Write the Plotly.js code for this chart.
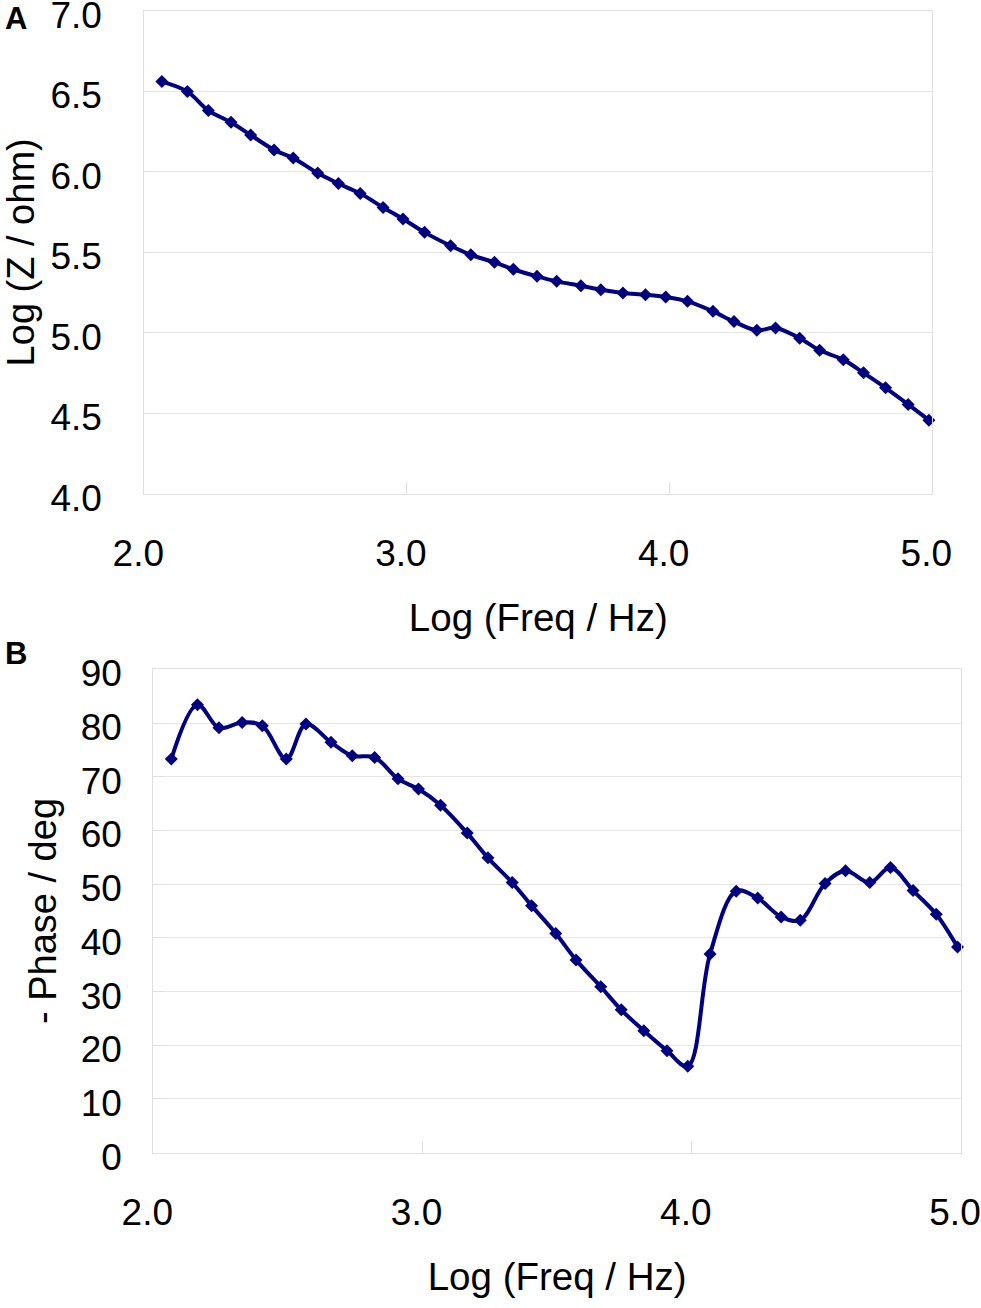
<!DOCTYPE html>
<html>
<head>
<meta charset="utf-8">
<script src="https://cdn.plot.ly/plotly-3.0.1.min.js"></script>
<style>
html,body{margin:0;padding:0;background:#fff;}
#chart{width:981px;height:1308px;}
</style>
</head>
<body>
<div id="chart"></div>
<script>
// Data
var logFreq = [2.067, 2.164, 2.244, 2.330, 2.405, 2.494, 2.567, 2.660, 2.739, 2.822,
               2.909, 2.985, 3.067, 3.166, 3.243, 3.333, 3.405, 3.495, 3.570, 3.662,
               3.738, 3.822, 3.908, 3.985, 4.068, 4.165, 4.245, 4.332, 4.403, 4.495,
               4.571, 4.661, 4.738, 4.822, 4.908, 4.987];
var logZ = [6.560, 6.498, 6.380, 6.308, 6.228, 6.136, 6.085, 5.992, 5.927, 5.865,
            5.779, 5.707, 5.624, 5.541, 5.485, 5.438, 5.395, 5.351, 5.320, 5.293,
            5.268, 5.248, 5.237, 5.223, 5.196, 5.134, 5.070, 5.016, 5.031, 4.967,
            4.892, 4.834, 4.752, 4.659, 4.556, 4.458];
var phase = [73.3, 83.4, 79.1, 80.1, 79.5, 73.3, 79.8, 76.4, 73.9, 73.6,
             69.6, 67.7, 64.7, 59.5, 54.9, 50.3, 46.0, 40.8, 35.9, 30.9,
             26.6, 22.7, 19.0, 16.1, 37.0, 48.7, 47.4, 43.9, 43.3, 50.1,
             52.5, 50.3, 53.1, 48.8, 44.4, 38.3];
var panelLabels = ["A", "B"];
var xTitle = "Log (Freq / Hz)";
var yTitleA = "Log (Z / ohm)";
var yTitleB = "- Phase / deg";

var navy = "#000080";
var FONT = "Liberation Sans, Arial, Helvetica, sans-serif";
var W = 981, H = 1308;

function px2x(p){ return p / W; }
function px2y(p){ return 1 - p / H; }

var lineStyle = {color: navy, width: 4, shape: "spline", smoothing: 1};
var markerStyle = {symbol: "diamond", size: 10, color: navy};

var traces = [
  {x: logFreq, y: logZ, xaxis: "x", yaxis: "y", type: "scatter", mode: "lines+markers",
   line: lineStyle, marker: markerStyle, cliponaxis: false, hoverinfo: "x+y"},
  {x: logFreq, y: phase, xaxis: "x2", yaxis: "y2", type: "scatter", mode: "lines+markers",
   line: lineStyle, marker: markerStyle, cliponaxis: false, hoverinfo: "x+y"}
];

var gridC = "#e6e6e6", lineC = "#e0e0e0";
function xAxis(domain, anchor){
  return {
    domain: domain, anchor: anchor, range: [2, 5], dtick: 1, tick0: 2, tickformat: ".1f",
    showgrid: false, zeroline: false, showline: true, mirror: true, linecolor: lineC, linewidth: 1,
    ticks: "inside", ticklen: 12, tickcolor: lineC, tickwidth: 1,
    tickfont: {family: FONT, size: 37, color: "#000"},
    ticklabelstandoff: 27, ticklabelshift: -6, ticklabeloverflow: "allow",
    title: {text: xTitle, font: {family: FONT, size: 38.5, color: "#000"}, standoff: 30},
    automargin: false, fixedrange: true
  };
}
function yAxis(domain, anchor, range, dtick, fmt, standoffLbl, standoffTitle, title){
  return {
    domain: domain, anchor: anchor, range: range, dtick: dtick, tick0: 0, tickformat: fmt,
    showgrid: true, gridcolor: gridC, gridwidth: 1, zeroline: false,
    showline: true, mirror: true, linecolor: lineC, linewidth: 1,
    ticks: "inside", ticklen: 12, tickcolor: lineC, tickwidth: 1,
    tickfont: {family: FONT, size: 37, color: "#000"},
    ticklabelstandoff: standoffLbl, ticklabelshift: 4, ticklabeloverflow: "allow",
    title: {text: title, font: {family: FONT, size: 38, color: "#000"}, standoff: standoffTitle},
    automargin: false, fixedrange: true
  };
}

var layout = {
  width: W, height: H,
  margin: {l: 0, r: 0, t: 0, b: 0, pad: 0},
  paper_bgcolor: "#fff", plot_bgcolor: "#fff",
  showlegend: false,
  font: {family: FONT, color: "#000"},
  xaxis: xAxis([px2x(144.3), px2x(932.3)], "y"),
  yaxis: yAxis([px2y(494), px2y(10.7)], "x", [3.9999, 7.0001], 0.5, ".1f", 34, 23, yTitleA),
  xaxis2: xAxis([px2x(153.3), px2x(961)], "y2"),
  yaxis2: yAxis([px2y(1152.7), px2y(669.3)], "x2", [0, 90.001], 10, "d", 23, 12, yTitleB),
  annotations: [
    {text: "<b>" + panelLabels[0] + "</b>", xref: "paper", yref: "paper", x: px2x(3), y: px2y(18),
     xanchor: "left", yanchor: "middle", showarrow: false, font: {family: FONT, size: 31, color: "#000"}},
    {text: "<b>" + panelLabels[1] + "</b>", xref: "paper", yref: "paper", x: px2x(3), y: px2y(653.5),
     xanchor: "left", yanchor: "middle", showarrow: false, font: {family: FONT, size: 31, color: "#000"}}
  ]
};

Plotly.newPlot("chart", traces, layout, {displayModeBar: false});
</script>
</body>
</html>
